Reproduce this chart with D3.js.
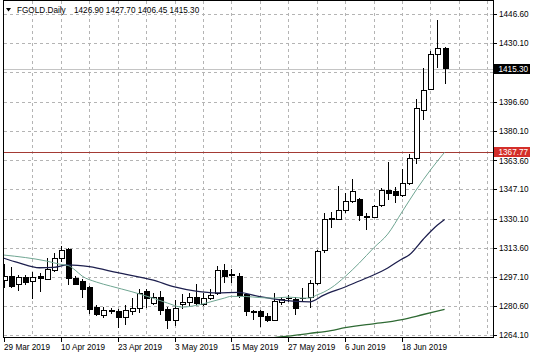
<!DOCTYPE html>
<html><head><meta charset="utf-8">
<script src="https://cdn.jsdelivr.net/npm/d3@7"></script>
<style>
html,body{margin:0;padding:0;background:#fff;}
svg{display:block;font-family:"Liberation Sans",Arial,sans-serif;}
</style></head><body>
<svg id="c" width="536" height="358"></svg>
<script>
const dates = ["2019-03-29","2019-04-01","2019-04-02","2019-04-03","2019-04-04","2019-04-05","2019-04-08","2019-04-09","2019-04-10","2019-04-11",
"2019-04-12","2019-04-15","2019-04-16","2019-04-17","2019-04-18","2019-04-22","2019-04-23","2019-04-24","2019-04-25","2019-04-26",
"2019-04-29","2019-04-30","2019-05-01","2019-05-02","2019-05-03","2019-05-06","2019-05-07","2019-05-08","2019-05-09","2019-05-10",
"2019-05-13","2019-05-14","2019-05-15","2019-05-16","2019-05-17","2019-05-20","2019-05-21","2019-05-22","2019-05-23","2019-05-24",
"2019-05-27","2019-05-28","2019-05-29","2019-05-30","2019-05-31","2019-06-03","2019-06-04","2019-06-05","2019-06-06","2019-06-07",
"2019-06-10","2019-06-11","2019-06-12","2019-06-13","2019-06-14","2019-06-17","2019-06-18","2019-06-19","2019-06-20","2019-06-21",
"2019-06-24","2019-06-25","2019-06-26"];
const open = [1295.44,1297.54,1292.77,1297.14,1294.59,1297.31,1295.72,1301.11,1307.92,1312.85,
1296.40,1294.59,1291.18,1280.12,1275.59,1278.14,1277.46,1274.28,1277.46,1279.39,
1289.20,1282.22,1285.63,1278.82,1272.35,1281.83,1282.96,1285.80,1281.83,1285.06,
1287.89,1300.71,1298.56,1297.71,1287.33,1277.68,1277.46,1275.02,1272.75,1282.56,
1284.89,1284.49,1284.89,1285.80,1293.57,1312.06,1330.04,1329.87,1335.14,1339.85,
1341.21,1331.74,1331.00,1337.98,1346.49,1345.52,1343.65,1350.29,1364.47,1391.87,
1403.61,1423.46,1426.90];
const high = [1304.51,1302.64,1298.10,1298.44,1299.98,1299.24,1307.92,1310.75,1314.72,1313.42,
1297.71,1296.01,1292.32,1281.26,1280.30,1279.39,1278.82,1281.26,1285.06,1290.16,
1290.16,1287.89,1289.37,1280.30,1284.09,1287.50,1288.23,1293.17,1287.89,1290.16,
1303.38,1304.51,1301.51,1299.24,1288.23,1278.42,1278.42,1276.55,1287.89,1285.97,
1286.93,1285.97,1290.73,1295.44,1312.45,1333.27,1334.01,1348.76,1344.62,1352.56,
1341.78,1333.61,1337.98,1347.45,1362.54,1348.36,1358.23,1366.91,1397.94,1415.41,
1425.50,1442.92,1427.70];
const low = [1290.90,1290.90,1289.37,1292.77,1284.94,1288.63,1295.44,1300.15,1305.65,1292.60,
1292.60,1285.23,1276.15,1275.02,1273.88,1276.15,1268.21,1269.91,1275.59,1276.55,
1279.39,1281.26,1275.59,1267.47,1269.35,1278.99,1280.69,1281.26,1280.69,1284.09,
1286.93,1293.57,1293.57,1285.06,1275.02,1272.75,1268.95,1271.79,1272.35,1281.26,
1283.13,1275.59,1283.13,1279.56,1292.60,1310.92,1324.76,1329.47,1333.27,1338.94,
1329.07,1323.80,1330.44,1337.02,1340.82,1339.11,1342.69,1349.32,1361.24,1386.19,
1403.21,1415.52,1406.45];
const close = [1297.70,1291.86,1296.97,1294.13,1296.69,1296.18,1301.39,1307.92,1312.17,1296.57,
1293.17,1290.33,1278.99,1276.15,1278.42,1277.57,1274.28,1278.03,1279.39,1287.89,
1285.06,1285.63,1278.42,1272.35,1279.39,1282.56,1285.80,1282.00,1285.06,1286.93,
1300.71,1297.31,1297.99,1286.93,1277.46,1277.29,1274.62,1272.75,1283.13,1284.49,
1285.23,1279.39,1285.23,1293.57,1311.49,1329.87,1330.32,1335.14,1339.85,1345.52,
1332.31,1331.00,1337.02,1346.49,1344.62,1343.37,1350.29,1364.47,1392.83,1402.81,
1423.46,1426.86,1415.30];
// moving averages as [bar index, price]
const maFast = [[0,1309.6],[3,1308.2],[6,1306.2],[8,1304.3],[9,1303.7],[10,1301.1],[11,1297.7],[13,1294.3],[15,1292.0],[18,1288.8],[21,1285.1],[23,1282.4],[25,1280.1],[27,1281.0],[29,1283.0],[31,1285.2],[32,1286.2],[34,1286.1],[36,1285.5],[38,1285.2],[40,1285.8],[42,1285.2],[43,1285.2],[44,1286.9],[45,1288.6],[46,1290.9],[48,1297.4],[50,1305.1],[52,1313.6],[54,1321.5],[56,1334.0],[58,1346.5],[60,1357.8],[62,1367.9]];
const maMid = [[0,1307.8],[2,1305.3],[5,1302.4],[7,1302.6],[9,1304.0],[12,1303.0],[16,1299.6],[21,1295.4],[24,1291.6],[27,1289.2],[30,1288.2],[33,1288.5],[36,1286.0],[39,1284.1],[43,1283.1],[45,1286.9],[48,1291.5],[50,1294.9],[52,1298.3],[54,1302.3],[56,1307.4],[57,1309.6],[59,1318.6],[61,1326.6],[62,1329.8]];
const maSlow = [[37,1262.0],[38,1262.8],[40,1263.6],[43,1265.2],[46,1266.8],[48,1268.4],[51,1270.2],[53,1271.1],[56,1273.0],[59,1275.9],[62,1278.8]];
// right-axis labels; 1413.60 only gets a grid line (its label is hidden under the price box)
const priceTicks = ["1446.60","1430.10","1413.60","1396.60","1380.10","1363.60","1347.10","1330.10","1313.60","1297.10","1280.60","1264.10"];
const hiddenTicks = ["1413.60"];
const dateTicks = ["2019-03-29","2019-04-10","2019-04-23","2019-05-03","2019-05-15","2019-05-27","2019-06-06","2019-06-18"];
const symbol = "FGOLD.Daily";
const bidPrice = 1415.30;
const levelPrice = 1367.77;

const svg = d3.select("#c");
const L = 3.5, R = 493.5, T = 0.5, B = 337.5;
const x = d3.scalePoint().domain(dates).range([4, 444.6]);
const y = d3.scaleLinear().domain([1264.1, 1446.6]).range([335.3, 13.5]);
const FS = "8.2px";

svg.append("defs").append("clipPath").attr("id","plot").append("rect")
  .attr("x",L).attr("y",T).attr("width",R-L).attr("height",B-T);

// grid
const grid = svg.append("g").attr("stroke","#b4b4b4").attr("stroke-dasharray","3,3").attr("shape-rendering","crispEdges");
priceTicks.forEach(t=>{
  const yy = Math.round(y(+t))+0.5;
  grid.append("line").attr("x1",L).attr("x2",R).attr("y1",yy).attr("y2",yy);
});
for(let k=1;;k++){
  const xg = x(dates[0]) + k*4*x.step();
  if(xg >= R-1) break;
  const xx = Math.round(xg)+0.5;
  grid.append("line").attr("x1",xx).attr("x2",xx).attr("y1",T).attr("y2",B);
}

// price lines
const plot = svg.append("g").attr("clip-path","url(#plot)");
plot.append("line").attr("x1",L).attr("x2",R).attr("y1",Math.round(y(bidPrice))+0.5).attr("y2",Math.round(y(bidPrice))+0.5)
  .attr("stroke","#c4c4c4").attr("shape-rendering","crispEdges");
plot.append("line").attr("x1",L).attr("x2",R).attr("y1",Math.round(y(levelPrice))+0.5).attr("y2",Math.round(y(levelPrice))+0.5)
  .attr("stroke","#a33a34").attr("shape-rendering","crispEdges");

// candles
const cg = plot.append("g").attr("shape-rendering","crispEdges");
cg.selectAll("line.w").data(dates).join("line").attr("class","w")
  .attr("x1",(d)=>Math.round(x(d))+0.5).attr("x2",(d)=>Math.round(x(d))+0.5)
  .attr("y1",(d,i)=>y(high[i])).attr("y2",(d,i)=>y(low[i])).attr("stroke","#000");
cg.selectAll("rect.b").data(dates).join("rect").attr("class","b")
  .attr("x",(d)=>Math.round(x(d))-2)
  .attr("y",(d,i)=>y(Math.max(open[i],close[i])))
  .attr("width",5)
  .attr("height",(d,i)=>Math.max(y(Math.min(open[i],close[i]))-y(Math.max(open[i],close[i])),0.6))
  .attr("fill",(d,i)=>close[i]>=open[i]?"#fff":"#000")
  .attr("stroke","#000");

// moving averages
const line = d3.line().x(d=>x(dates[d[0]])).y(d=>y(d[1])).curve(d3.curveMonotoneX);
plot.append("path").attr("d",line(maSlow)).attr("fill","none").attr("stroke","#2f6a34").attr("stroke-width",1.3);
plot.append("path").attr("d",line(maMid)).attr("fill","none").attr("stroke","#1d1f4e").attr("stroke-width",1.3);
plot.append("path").attr("d",line(maFast)).attr("fill","none").attr("stroke","#6fa592").attr("stroke-width",1);

// frame
svg.append("rect").attr("x",L).attr("y",T).attr("width",R-L).attr("height",B-T)
  .attr("fill","none").attr("stroke","#000").attr("shape-rendering","crispEdges");

// right axis
const ax = svg.append("g");
priceTicks.forEach(t=>{
  const yy = y(+t);
  ax.append("line").attr("x1",R).attr("x2",R+3.5).attr("y1",Math.round(yy)+0.5).attr("y2",Math.round(yy)+0.5)
    .attr("stroke","#000").attr("shape-rendering","crispEdges");
  if(hiddenTicks.includes(t)) return;
  ax.append("text").attr("x",499).attr("y",yy+(t==="1363.60"?4:3)).attr("font-size",FS).attr("fill","#000").text(t);
});
// price boxes
[[bidPrice,"#000"],[levelPrice,"#d42f2a"]].forEach(([p,c])=>{
  const yy = y(p);
  ax.append("rect").attr("x",494).attr("y",Math.round(yy)-5).attr("width",36).attr("height",10).attr("fill",c);
  ax.append("text").attr("x",498.5).attr("y",yy+3).attr("font-size",FS).attr("fill","#fff").text(p.toFixed(2));
});

// date axis
const parse = d3.timeParse("%Y-%m-%d"), fmt = d3.timeFormat("%-d %b %Y");
dateTicks.forEach(d=>{
  const xx = Math.round(x(d))+0.5;
  ax.append("line").attr("x1",xx).attr("x2",xx).attr("y1",B).attr("y2",B+4).attr("stroke","#000").attr("shape-rendering","crispEdges");
  ax.append("text").attr("x",xx-0.5).attr("y",350).attr("font-size",FS).attr("fill","#000").text(fmt(parse(d)));
});

// title
const n = dates.length-1;
svg.append("path").attr("d","M6,8L11,8L8.5,11.5Z").attr("fill","#000");
svg.append("text").attr("x",17).attr("y",12.5).attr("font-size",FS).attr("fill","#000").text(symbol);
svg.append("text").attr("x",74).attr("y",12.5).attr("font-size",FS).attr("fill","#000")
  .text([open[n],high[n],low[n],close[n]].map(v=>v.toFixed(2)).join(" "));
</script>
</body></html>
